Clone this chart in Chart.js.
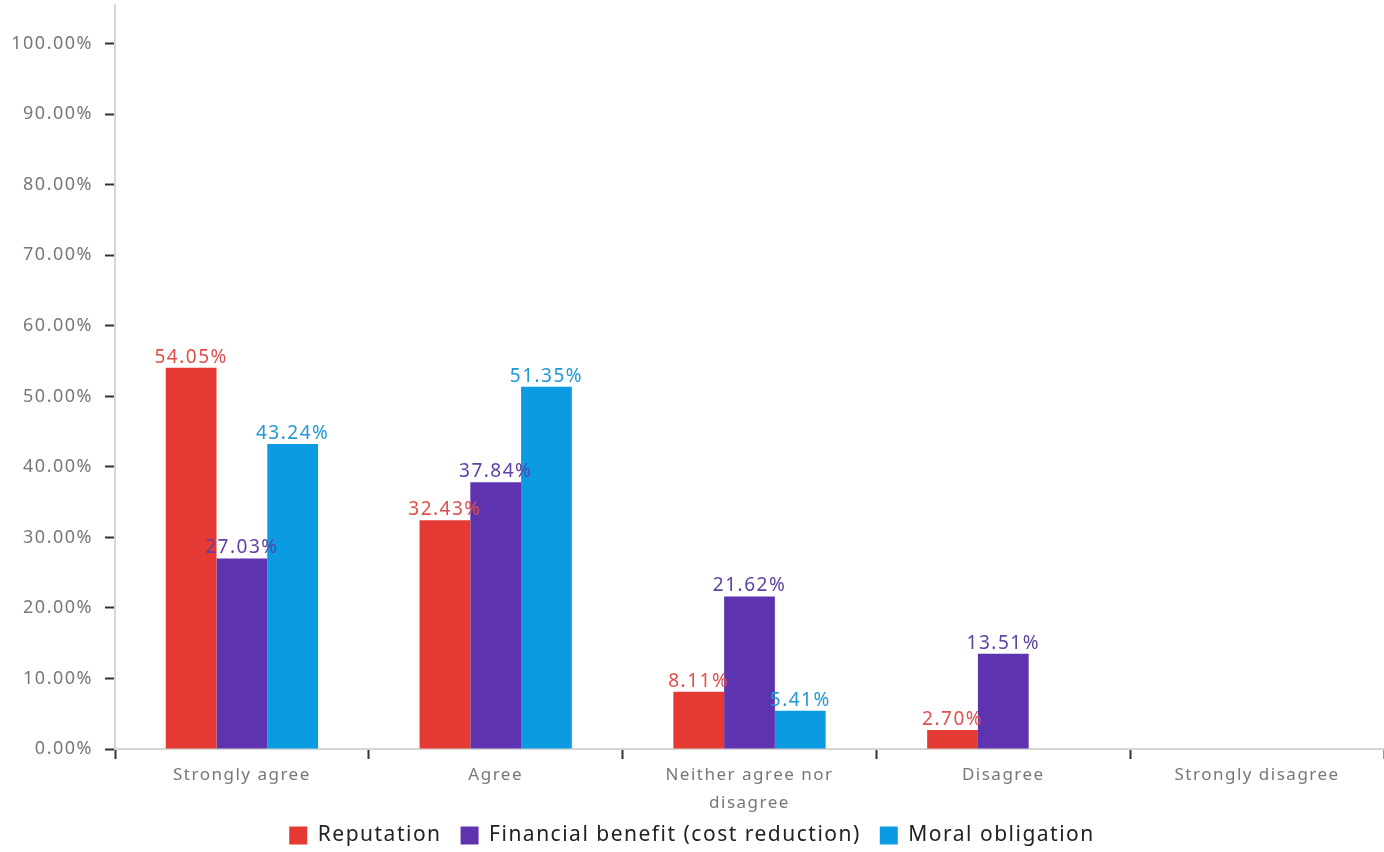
<!DOCTYPE html>
<html>
<head>
<meta charset="utf-8">
<script src="https://cdn.jsdelivr.net/npm/chart.js@4/dist/chart.umd.min.js"></script>
<style>
  html, body { margin: 0; padding: 0; background: #fff; }
  #wrap { width: 1384px; height: 852px; }
</style>
</head>
<body>
<div id="wrap"><canvas id="chart"></canvas></div>
<script>
const categories = ['Strongly agree', 'Agree', ['Neither agree nor', 'disagree'], 'Disagree', 'Strongly disagree'];
const reputation = [54.05, 32.43, 8.11, 2.70, 0];
const financialBenefit = [27.03, 37.84, 21.62, 13.51, 0];
const moralObligation = [43.24, 51.35, 5.41, 0, 0];
const yTicks = [0, 10, 20, 30, 40, 50, 60, 70, 80, 90, 100];

const labelColors = ['#e0504a', '#5f41a3', '#2298d6'];
const FONT = '"Noto Sans"';

// the original text is widely spaced, so widen all canvas text a little
const spacing = {
    id: 'spacing',
    beforeLayout(chart) { chart.ctx.letterSpacing = '1.5px'; },
    beforeDraw(chart) { chart.ctx.letterSpacing = '1.5px'; }
};

// value labels above each bar
const barLabels = {
    id: 'barLabels',
    afterDatasetsDraw(chart) {
        const ctx = chart.ctx;
        ctx.save();
        ctx.font = '19px ' + FONT;
        ctx.textAlign = 'center';
        ctx.textBaseline = 'bottom';
        chart.data.datasets.forEach((ds, i) => {
            const meta = chart.getDatasetMeta(i);
            ctx.fillStyle = labelColors[i];
            meta.data.forEach((bar, j) => {
                const v = ds.data[j];
                if (!v) return;
                ctx.fillText(v.toFixed(2) + '%', bar.x, bar.y - 1);
            });
        });
        ctx.restore();
    }
};

document.addEventListener("DOMContentLoaded", function () {
    new Chart(document.getElementById('chart'), {
        type: 'bar',
        data: {
            labels: categories,
            datasets: [
                { label: 'Reputation', data: reputation, backgroundColor: '#e43a33' },
                { label: 'Financial benefit (cost reduction)', data: financialBenefit, backgroundColor: '#5e33b0' },
                { label: 'Moral obligation', data: moralObligation, backgroundColor: '#0a9be3' }
            ]
        },
        options: {
            responsive: true,
            maintainAspectRatio: false,
            animation: false,
            layout: { padding: { top: 5, right: 0, left: 0, bottom: -4 } },
            datasets: { bar: { categoryPercentage: 0.6, barPercentage: 1.0 } },
            plugins: {
                legend: {
                    position: 'bottom',
                    labels: {
                        boxWidth: 18, boxHeight: 18, padding: 19,
                        color: '#222',
                        font: { family: FONT, size: 21 }
                    }
                },
                tooltip: { enabled: false }
            },
            scales: {
                x: {
                    afterFit: (axis) => {
                        axis.height = 57;
                        axis._computeLabelArea = () => null;   // let the 2nd line of a label run past the box
                    },
                    grid: { offset: true, drawOnChartArea: false, tickLength: 10, tickColor: '#333', tickWidth: 2 },
                    border: { color: '#d6d6d6', width: 2 },
                    ticks: { color: '#777', font: { family: FONT, size: 17, lineHeight: 1.6 }, padding: 3, maxRotation: 0 }
                },
                y: {
                    min: 0,
                    max: 105.5,
                    afterBuildTicks: (axis) => { axis.ticks = yTicks.map(v => ({ value: v })); },
                    afterFit: (axis) => {
                        axis.width = 115;
                        axis.paddingTop = 0;
                        axis.paddingBottom = 0;
                    },
                    grid: { drawOnChartArea: false, tickLength: 10, tickColor: '#333', tickWidth: 2 },
                    border: { color: '#d6d6d6', width: 2 },
                    ticks: {
                        color: '#777',
                        font: { family: FONT, size: 18 },
                        padding: 12,
                        callback: (v) => v.toFixed(2) + '%'
                    }
                }
            }
        },
        plugins: [spacing, barLabels]
    });
});
</script>
</body>
</html>
